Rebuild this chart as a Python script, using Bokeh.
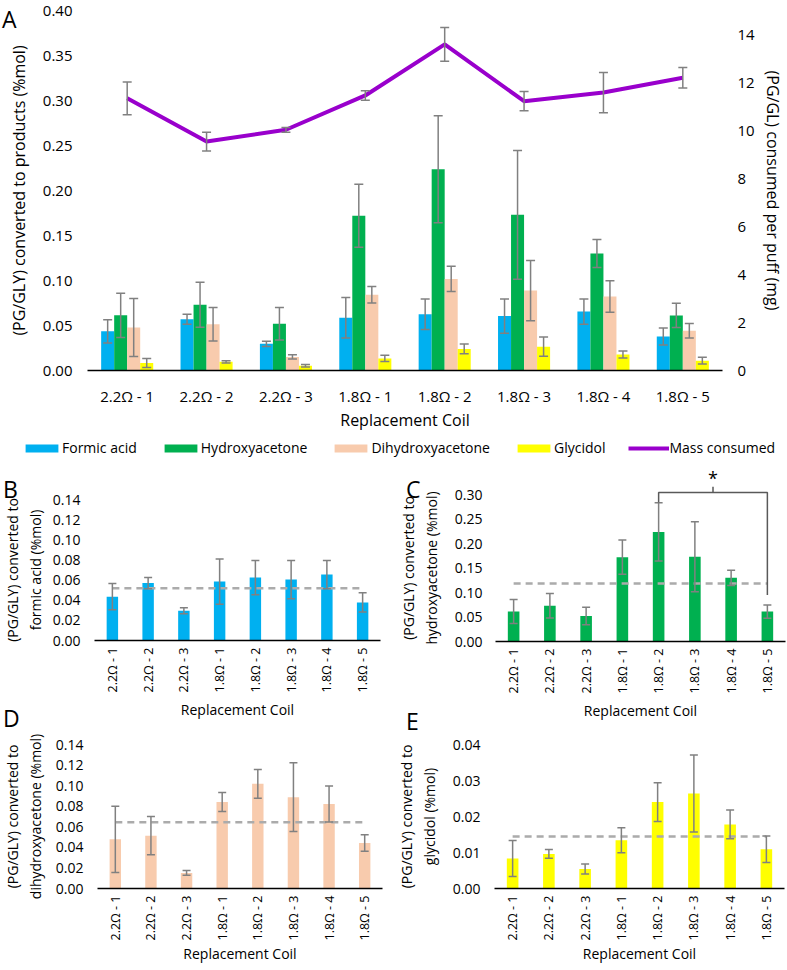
import math
import numpy as np
from bokeh.plotting import figure
from bokeh.models import (ColumnDataSource, FactorRange, Range1d, LinearAxis, FixedTicker,
                          NumeralTickFormatter, Whisker, TeeHead, Legend, LegendItem, Div, Plot, Grid)
from bokeh.layouts import column, row
from bokeh.transform import dodge
from bokeh.core.properties import value
from bokeh.embed import file_html
from bokeh.resources import INLINE

# ---------------- data ----------------
coils = ["2.2Ω - 1", "2.2Ω - 2", "2.2Ω - 3", "1.8Ω - 1", "1.8Ω - 2", "1.8Ω - 3", "1.8Ω - 4", "1.8Ω - 5"]

formic = [0.0435, 0.0570, 0.0296, 0.0585, 0.0625, 0.0605, 0.0655, 0.0378]
formic_err = [0.0130, 0.0055, 0.0030, 0.0225, 0.0170, 0.0190, 0.0140, 0.0095]

hydroxy = [0.0613, 0.0730, 0.0520, 0.1720, 0.2236, 0.1730, 0.1300, 0.0612]
hydroxy_err = [0.0245, 0.0250, 0.0180, 0.0350, 0.0595, 0.0715, 0.0155, 0.0135]

dihydroxy = [0.0478, 0.0514, 0.0151, 0.0841, 0.1018, 0.0888, 0.0822, 0.0442]
dihydroxy_err = [0.0322, 0.0185, 0.0023, 0.0092, 0.0140, 0.0335, 0.0175, 0.0081]

glycidol = [0.0083, 0.0096, 0.0054, 0.0134, 0.0240, 0.0264, 0.0178, 0.0109]
glycidol_err = [0.0050, 0.0012, 0.0014, 0.0035, 0.0054, 0.0107, 0.0040, 0.0037]

mass = [11.34, 9.54, 10.03, 11.46, 13.59, 11.22, 11.58, 12.20]
mass_err = [0.68, 0.39, 0.10, 0.20, 0.70, 0.40, 0.84, 0.43]

a_left_ticks = [0.00, 0.05, 0.10, 0.15, 0.20, 0.25, 0.30, 0.35, 0.40]
a_right_ticks = [0, 2, 4, 6, 8, 10, 12, 14]
b_ticks = [0.00, 0.02, 0.04, 0.06, 0.08, 0.10, 0.12, 0.14]
c_ticks = [0.00, 0.05, 0.10, 0.15, 0.20, 0.25, 0.30]
d_ticks = [0.00, 0.02, 0.04, 0.06, 0.08, 0.10, 0.12, 0.14]
e_ticks = [0.00, 0.01, 0.02, 0.03, 0.04]

# significance bracket in panel C (between 1.8Ω - 2 and 1.8Ω - 5)
sig_pair = ["1.8Ω - 2", "1.8Ω - 5"]
sig_left_low, sig_level, sig_right_low, sig_tick_top, sig_star_y = 0.284, 0.304, 0.095, 0.316, 0.333

# ---------------- style ----------------
FONT = "Open Sans"
C_FORMIC = "#00B0F0"
C_HYDROXY = "#00B050"
C_DIHYDROXY = "#F8CBAD"
C_GLYCIDOL = "#FFFF00"
C_MASS = "#9900CC"
C_ERR = "#808080"
C_MEAN = "#ABABAB"
TXT = "#000000"
NOALIGN = {"frame_align": False} if "frame_align" in Plot.properties() else {}


def style(p, tick_size, title_size):
    p.outline_line_color = None
    for g in p.select(type=Grid):
        g.visible = False
    p.background_fill_color = "white"
    p.border_fill_color = "white"
    for ax in p.xaxis + p.yaxis:
        ax.major_tick_line_color = None
        ax.minor_tick_line_color = None
        ax.major_tick_out = 0
        ax.major_tick_in = 0
        ax.major_label_text_font = FONT
        ax.major_label_text_font_size = tick_size
        ax.major_label_text_color = TXT
        ax.axis_label_text_font = FONT
        ax.axis_label_text_font_size = title_size
        ax.axis_label_text_font_style = "normal"
        ax.axis_label_text_color = TXT
    for ax in p.yaxis:
        ax.axis_line_color = None
    for ax in p.xaxis:
        ax.axis_line_color = "black"
        ax.axis_line_width = 1.5


def whisk(p, src, base, cap, range_name="default"):
    w = Whisker(base=base, upper="upper", lower="lower", source=src,
                line_color=C_ERR, line_width=1.5, level="overlay",
                upper_head=TeeHead(size=cap, line_color=C_ERR, line_width=1.5),
                lower_head=TeeHead(size=cap, line_color=C_ERR, line_width=1.5),
                y_range_name=range_name)
    p.add_layout(w)


def letter(txt, left, top):
    return Div(text=f'<span style="font-family:\'Open Sans\';font-size:23px;line-height:1;color:#000">{txt}</span>',
               width=24, height=26,
               styles={"position": "absolute", "left": f"{left}px", "top": f"{top}px",
                       "font-family": "'Open Sans'", "font-size": "23px", "line-height": "1",
                       "margin": "0", "padding": "0", "z-index": "10"})


# ---------------- panel A ----------------
A_H, L_H = 433, 29
pa = figure(x_range=FactorRange(*coils), y_range=Range1d(0, 0.40),
            width=787, height=A_H,
            min_border_left=87, min_border_right=65, min_border_top=10, min_border_bottom=59,
            output_backend="svg", toolbar_location=None, **NOALIGN)
pa.extra_y_ranges = {"mass": Range1d(0, 15)}

series = [("Formic acid", formic, formic_err, C_FORMIC),
          ("Hydroxyacetone", hydroxy, hydroxy_err, C_HYDROXY),
          ("Dihydroxyacetone", dihydroxy, dihydroxy_err, C_DIHYDROXY),
          ("Glycidol", glycidol, glycidol_err, C_GLYCIDOL)]
bw = 0.164
offsets = [-1.5 * bw, -0.5 * bw, 0.5 * bw, 1.5 * bw]
for (name, vals, errs, col), off in zip(series, offsets):
    v = np.array(vals)
    e = np.array(errs)
    src = ColumnDataSource(dict(x=coils, top=v, upper=v + e, lower=v - e))
    pa.vbar(x=dodge("x", off, range=pa.x_range), top="top", width=bw, source=src,
            fill_color=col, line_color=None)
    whisk(pa, src, dodge("x", off, range=pa.x_range), 9)

m = np.array(mass)
me = np.array(mass_err)
msrc = ColumnDataSource(dict(x=coils, y=m, upper=m + me, lower=m - me))
pa.line(x="x", y="y", source=msrc, line_color=C_MASS, line_width=4, y_range_name="mass")
whisk(pa, msrc, "x", 9, "mass")

pa.yaxis.ticker = FixedTicker(ticks=a_left_ticks)
pa.yaxis.formatter = NumeralTickFormatter(format="0.00")
pa.yaxis.axis_label = "(PG/GLY) converted to products (%mol)"
pa.yaxis.major_label_standoff = 15
pa.yaxis.axis_label_standoff = 10
right = LinearAxis(y_range_name="mass", ticker=FixedTicker(ticks=a_right_ticks),
                   axis_label="(PG/GL) consumed per puff (mg)")
pa.add_layout(right, "right")
right.major_label_standoff = 15
right.axis_label_standoff = 4
pa.xaxis.axis_label = "Replacement Coil"
pa.xaxis.major_label_standoff = 15
pa.xaxis.axis_label_standoff = 0
style(pa, "15px", "16px")

# ---------------- legend strip ----------------
pl = figure(width=787, height=L_H, x_range=Range1d(0, 1), y_range=Range1d(0, 1),
            min_border_left=0, min_border_right=0, min_border_top=0, min_border_bottom=0,
            x_axis_location=None, y_axis_location=None,
            output_backend="svg", toolbar_location=None, **NOALIGN)
pl.outline_line_color = None
for g in pl.select(type=Grid):
    g.visible = False
items = []
for name, vals, errs, col in series:
    r = pl.vbar(x=[100], top=[1], width=0.1, fill_color=col, line_color=None)
    items.append(LegendItem(label=name, renderers=[r]))
r = pl.line(x=[100, 101], y=[0.5, 0.5], line_color=C_MASS, line_width=4)
items.append(LegendItem(label="Mass consumed", renderers=[r]))
legend = Legend(items=items, orientation="horizontal", location=(21, 5),
                border_line_color=None, background_fill_alpha=0,
                label_text_font=FONT, label_text_font_size="14px", label_text_color=TXT,
                glyph_width=41, glyph_height=10, label_standoff=0, spacing=23,
                padding=0, margin=0)
pl.add_layout(legend)


# ---------------- small panels ----------------
def small(vals, errs, col, ylabel, y_end, ticks, w, h, left, right_b, top, bottom,
          lab_off, title_off, xtitle_off):
    p = figure(x_range=FactorRange(*coils), y_range=Range1d(0, y_end),
               width=w, height=h,
               min_border_left=left, min_border_right=right_b, min_border_top=top,
               min_border_bottom=bottom, output_backend="svg", toolbar_location=None,
               **NOALIGN)
    v = np.array(vals)
    e = np.array(errs)
    src = ColumnDataSource(dict(x=coils, top=v, upper=v + e, lower=v - e))
    p.vbar(x="x", top="top", width=0.32, source=src, fill_color=col, line_color=None)
    p.line(x=coils, y=[float(np.mean(v))] * len(coils), line_color=C_MEAN, line_width=2.5,
           line_dash="7 5")
    whisk(p, src, "x", 8)
    p.yaxis.ticker = FixedTicker(ticks=ticks)
    p.yaxis.formatter = NumeralTickFormatter(format="0.00")
    p.yaxis.axis_label = ylabel
    p.yaxis.major_label_standoff = lab_off
    p.yaxis.axis_label_standoff = title_off
    p.xaxis.axis_label = "Replacement Coil"
    p.xaxis.major_label_orientation = math.pi / 2
    p.xaxis.major_label_standoff = 7
    p.xaxis.axis_label_standoff = xtitle_off
    style(p, "14px", "14px")
    for ax in p.xaxis:
        ax.major_label_text_font_size = "12.5px"
    return p


# row 2
R2_H = 262
B_W = 390
C_W, C_L, C_T, C_FH = 397, 105, 32, 147
pb = small(formic, formic_err, C_FORMIC, "(PG/GLY) converted to\nformic acid (%mol)",
           0.14, b_ticks, B_W, R2_H, 85, 10, 37, R2_H - 37 - 141, 14, 5, 4)
pc = small(hydroxy, hydroxy_err, C_HYDROXY, "(PG/GLY) converted to\nhydroxyacetone (%mol)",
           c_ticks[-1], c_ticks, C_W, R2_H, C_L, 2, C_T, R2_H - C_T - C_FH, 13, 11, 4)

# significance bracket: a transparent overlay that shares panel C's categories and y scale,
# extended above the 0.30 top of C's frame
OV_UP = 29
ov_h = C_FH + OV_UP
ov = figure(x_range=pc.x_range, y_range=Range1d(0, c_ticks[-1] * ov_h / C_FH),
            width=C_W - C_L - 2, height=ov_h,
            min_border_left=0, min_border_right=0, min_border_top=0, min_border_bottom=0,
            x_axis_location=None, y_axis_location=None,
            output_backend="svg", toolbar_location=None, **NOALIGN)
ov.background_fill_color = None
ov.border_fill_color = None
ov.outline_line_color = None
for g in ov.select(type=Grid):
    g.visible = False
i0 = coils.index(sig_pair[0]) + 0.5
i1 = coils.index(sig_pair[1]) + 0.5
mid = (i0 + i1) / 2
ov.line(x=[i0, i0, i1, i1], y=[sig_left_low, sig_level, sig_level, sig_right_low],
        line_color="#595959", line_width=1.5)
ov.segment(x0=[mid], y0=[sig_level], x1=[mid], y1=[sig_tick_top], line_color="#595959",
           line_width=1.5)
ov.text(x=[mid], y=[sig_star_y], text=["*"], text_font=value(FONT), text_font_size="18px",
        text_align="center", text_baseline="middle", text_color=TXT)
ov.styles = {"position": "absolute", "left": f"{B_W + C_L}px",
             "top": f"{A_H + L_H + C_T - OV_UP}px", "z-index": "5"}

# row 3
R3_H = 245
pd_ = small(dihydroxy, dihydroxy_err, C_DIHYDROXY, "(PG/GLY) converted to\ndihydroxyacetone (%mol)",
            0.14, d_ticks, 390, R3_H, 86, 8, 20, R3_H - 20 - 144, 14, 8, 0)
pe = small(glycidol, glycidol_err, C_GLYCIDOL, "(PG/GLY) converted to\nglycidol (%mol)",
           0.04, e_ticks, 397, R3_H, 104, 3, 20, R3_H - 20 - 144, 14, 11, 0)

layout = column(pa, pl, row(pb, pc), row(pd_, pe), ov,
                letter("A", 2, 8), letter("B", 3, 478), letter("C", 406, 478),
                letter("D", 3, 707), letter("E", 406, 710))
open("out.html", "w").write(file_html(layout, INLINE))
